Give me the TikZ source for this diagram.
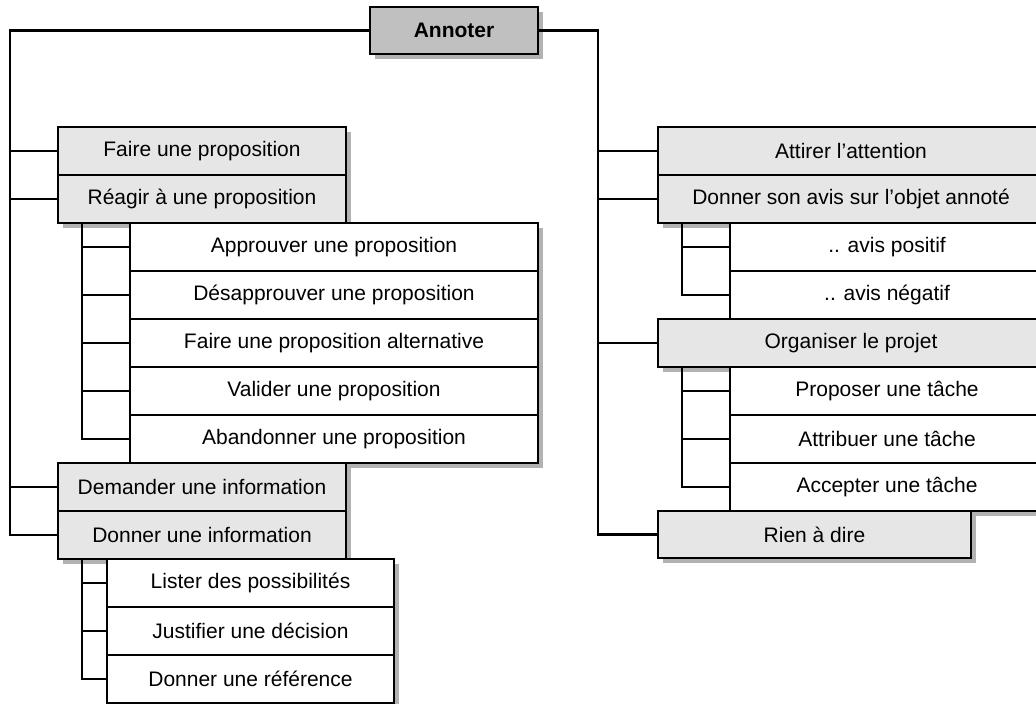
\documentclass[tikz,border=0pt]{standalone}
\usepackage{fontspec}
\setmainfont{Liberation Sans}
\usetikzlibrary{shadows}
\newlength\pxu
\setlength\pxu{0.5pt}
\definecolor{shadowc}{RGB}{178,178,178}
\definecolor{lightbox}{RGB}{230,230,230}
\definecolor{topbox}{RGB}{192,192,192}
\tikzset{
  box/.style={draw, line width=1pt, anchor=north west, inner sep=0pt, outer sep=0pt,
    font=\fontsize{10.5pt}{12pt}\selectfont, align=center,
    general shadow={fill=shadowc, shadow xshift=2.6pt, shadow yshift=-2.6pt}},
  graybox/.style={box, fill=lightbox, minimum height=#1\pxu},
  graybox/.default=48,
  kidbox/.style={box, fill=white, minimum height=48\pxu},
  link/.style={line width=1.1pt},
}
\begin{document}
\begin{tikzpicture}[x=0.5pt, y=-0.5pt]
\useasboundingbox (0,0) rectangle (1036,704);
\clip (0,0) rectangle (1036,704);
% top node
\node[box, fill=topbox, minimum width=168\pxu, minimum height=47\pxu, font=\fontsize{10.5pt}{12pt}\selectfont\bfseries] (ann) at (370,7) {Annoter};
% left column
\node[graybox, minimum width=288\pxu] (f1) at (58,127) {Faire une proposition};
\node[graybox, minimum width=288\pxu] (f2) at (58,175) {Réagir à une proposition};
\node[kidbox, minimum width=408\pxu] (r1) at (130,223) {Approuver une proposition};
\node[kidbox, minimum width=408\pxu] (r2) at (130,271) {Désapprouver une proposition};
\node[kidbox, minimum width=408\pxu] (r3) at (130,319) {Faire une proposition alternative};
\node[kidbox, minimum width=408\pxu] (r4) at (130,367) {Valider une proposition};
\node[kidbox, minimum width=408\pxu] (r5) at (130,415) {Abandonner une proposition};
\node[graybox, minimum width=288\pxu] (f3) at (58,463) {Demander une information};
\node[graybox, minimum width=288\pxu] (f4) at (58,511) {Donner une information};
\node[kidbox, minimum width=287\pxu] (d1) at (107,559) {Lister des possibilités};
\node[kidbox, minimum width=287\pxu] (d2) at (107,607) {Justifier une décision};
\node[kidbox, minimum width=287\pxu] (d3) at (107,655) {Donner une référence};
% right column
\node[graybox, minimum width=386\pxu] (g1) at (658,127) {Attirer l’attention};
\node[graybox, minimum width=386\pxu] (g2) at (658,175) {Donner son avis sur l’objet annoté};
\node[kidbox, minimum width=314\pxu] (a1) at (730,223) {.. avis positif};
\node[kidbox, minimum width=314\pxu] (a2) at (730,271) {.. avis négatif};
\node[graybox, minimum width=386\pxu] (g3) at (658,319) {Organiser le projet};
\node[kidbox, minimum width=314\pxu] (o1) at (730,367) {Proposer une tâche};
\node[kidbox, minimum width=314\pxu] (o2) at (730,415) {Attribuer une tâche};
\node[kidbox, minimum width=314\pxu] (o3) at (730,463) {Accepter une tâche};
\node[graybox=47, minimum width=313\pxu] (g4) at (658,511) {Rien à dire};
% trunk coordinates
\coordinate (lt) at (10,0);
\coordinate (rt) at (598,0);
\coordinate (lb) at (82,0);
\coordinate (rb) at (682,0);
% left trunk
\draw[link] (ann.west) -| (lt |- f4.west) -- (f4.west);
\draw[link] (lt |- f1.west) -- (f1.west);
\draw[link] (lt |- f2.west) -- (f2.west);
\draw[link] (lt |- f3.west) -- (f3.west);
% right trunk
\draw[link] (ann.east) -| (rt |- g4.west) -- (g4.west);
\draw[link] (rt |- g1.west) -- (g1.west);
\draw[link] (rt |- g2.west) -- (g2.west);
\draw[link] (rt |- g3.west) -- (g3.west);
% brackets left
\draw[link] (lb |- f2.south) |- (r5.west);
\foreach \n in {r1,r2,r3,r4} \draw[link] (lb |- \n.west) -- (\n.west);
\draw[link] (lb |- f4.south) |- (d3.west);
\foreach \n in {d1,d2} \draw[link] (lb |- \n.west) -- (\n.west);
% brackets right
\draw[link] (rb |- g2.south) |- (a2.west);
\draw[link] (rb |- a1.west) -- (a1.west);
\draw[link] (rb |- g3.south) |- (o3.west);
\foreach \n in {o1,o2} \draw[link] (rb |- \n.west) -- (\n.west);
\end{tikzpicture}
\end{document}
